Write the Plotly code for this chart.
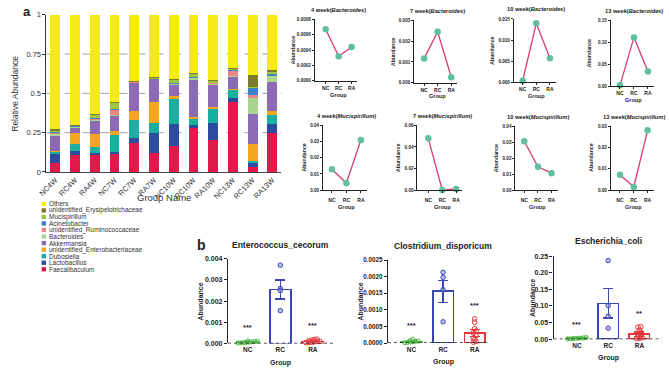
import numpy as np
import plotly.graph_objects as go

W, H = 669, 380

# ---------------- Panel a: relative abundance (stacked) ----------------
samples = ["NC4W", "RC4W", "RA4W", "NC7W", "RC7W", "RA7W",
           "NC10W", "RC10W", "RA10W", "NC13W", "RC13W", "RA13W"]
faecalibaculum      = [0.055, 0.110, 0.110, 0.120, 0.185, 0.120, 0.165, 0.280, 0.200, 0.445, 0.030, 0.250]
lactobacillus       = [0.060, 0.025, 0.010, 0.005, 0.030, 0.125, 0.140, 0.020, 0.110, 0.025, 0.030, 0.055]
dubosiella          = [0.015, 0.040, 0.040, 0.110, 0.115, 0.065, 0.165, 0.040, 0.095, 0.055, 0.010, 0.060]
enterobacteriaceae  = [0.005, 0.075, 0.080, 0.025, 0.055, 0.135, 0.010, 0.010, 0.008, 0.002, 0.108, 0.020]
akkermansia         = [0.100, 0.035, 0.090, 0.100, 0.185, 0.150, 0.075, 0.240, 0.145, 0.080, 0.190, 0.185]
bacteroides_a       = [0.010, 0.005, 0.005, 0.005, 0.003, 0.002, 0.008, 0.012, 0.008, 0.003, 0.110, 0.045]
ruminococcaceae     = [0.010, 0.003, 0.005, 0.035, 0.002, 0.001, 0.002, 0.002, 0.003, 0.040, 0.012, 0.003]
acinetobacter       = [0.003, 0.002, 0.002, 0.003, 0.002, 0.001, 0.002, 0.001, 0.002, 0.001, 0.050, 0.003]
mucispirillum_a     = [0.010, 0.003, 0.025, 0.040, 0.002, 0.002, 0.025, 0.020, 0.012, 0.006, 0.003, 0.018]
erysipelotrichaceae = [0.002, 0.001, 0.003, 0.003, 0.001, 0.001, 0.002, 0.002, 0.002, 0.001, 0.075, 0.012]
others              = [0.730, 0.701, 0.630, 0.554, 0.420, 0.398, 0.406, 0.373, 0.415, 0.342, 0.382, 0.349]

genera = ["Faecalibaculum", "Lactobacillus", "Dubosiella", "unidentified_Enterobacteriaceae",
          "Akkermansia", "Bacteroides", "unidentified_Ruminococcaceae", "Acinetobacter",
          "Mucispirillum", "unidentified_Erysipelotrichaceae", "Others"]
stack_series = [faecalibaculum, lactobacillus, dubosiella, enterobacteriaceae, akkermansia,
                bacteroides_a, ruminococcaceae, acinetobacter, mucispirillum_a,
                erysipelotrichaceae, others]
genus_colors = ["#E2194B", "#2D4B9F", "#1AB0A0", "#F6A520", "#8C6BB4", "#A9D78F",
                "#EE8585", "#3B82C6", "#9CC63C", "#7C7A2C", "#F3EA16"]
rel_ticks = [0, 0.25, 0.5, 0.75, 1]
rel_ticktext = ["0", "0.25", "0.5", "0.75", "1"]

# ---------------- Small line charts ----------------
groups = ["NC", "RC", "RA"]
weeks = ["4 week", "7 week", "10 week", "13 week"]
bacteroides_line = [[0.00067, 0.00032, 0.00044],
                    [0.00116, 0.00245, 0.00027],
                    [0.00040, 0.01400, 0.00570],
                    [0.00150, 0.11100, 0.03300]]
mucispirillum_line = [[0.0129, 0.0044, 0.0310],
                      [0.0480, 0.0002, 0.0012],
                      [0.0305, 0.0146, 0.0106],
                      [0.0072, 0.0015, 0.0280]]
bact_yticks = [(0.0008, 0.0002, 4), (0.003, 0.001, 3), (0.015, 0.005, 3), (0.15, 0.05, 2)]
muci_yticks = [(0.04, 0.01, 2), (0.06, 0.02, 2), (0.04, 0.01, 2), (0.03, 0.01, 2)]

# ---------------- Panel b: bar + scatter ----------------
b_titles = ["Enterococcus_cecorum", "Clostridium_disporicum", "Escherichia_coli"]
entero_pts = [[0.00010, 0.00008, 0.00006, 0.00005, 0.00004, 0.00003, 0.00002, 0.00011, 0.00012],
              [0.00370, 0.00260, 0.00250, 0.00155],
              [0.00020, 0.00018, 0.00015, 0.00012, 0.00010, 0.00008, 0.00006, 0.00005, 0.00004, 0.00010]]
entero_mean = [0.00007, 0.00255, 0.00010]
entero_sem = [0.00001, 0.00045, 0.00002]
clos_pts = [[0.00012, 0.00008, 0.00006, 0.00005, 0.00004, 0.00003, 0.00002, 0.00001],
            [0.00213, 0.00198, 0.00161, 0.00064],
            [0.00073, 0.00063, 0.00043, 0.00036, 0.00031, 0.00022, 0.00015, 0.00010, 0.00005, 0.00003]]
clos_mean = [0.00005, 0.00156, 0.00031]
clos_sem = [0.00001, 0.00033, 0.00010]
ecoli_pts = [[0.005, 0.004, 0.003, 0.003, 0.002, 0.002, 0.001, 0.001],
             [0.237, 0.101, 0.069, 0.033],
             [0.037, 0.036, 0.027, 0.020, 0.015, 0.010, 0.008, 0.005, 0.003, 0.002]]
ecoli_mean = [0.003, 0.108, 0.0147]
ecoli_sem = [0.0005, 0.044, 0.0069]
b_sig = [["***", "", "***"], ["***", "", "***"], ["***", "", "**"]]
b_yticks = [(0.004, 0.001, 3), (0.0025, 0.0005, 4), (0.25, 0.05, 2)]

# ---------------- styling / layout helpers ----------------
FONT = "Liberation Sans, Arial, sans-serif"
LINE_COL = "#D93A74"
MK_COL = "#5FBF9F"
GROUP_COLS = ["#4DB546", "#3A47B0", "#E5383E"]


def fx(x):
    return x / W


def fy(y):
    return 1 - y / H


annotations = []
shapes = []


def ann(text, x, y, size, color="#222", xref="paper", yref="paper", xanchor="center",
        yanchor="middle", angle=0):
    annotations.append(dict(text=text, x=x, y=y, xref=xref, yref=yref, xanchor=xanchor,
                            yanchor=yanchor, textangle=angle, showarrow=False,
                            font=dict(size=size, color=color)))


fig = go.Figure()
layout = dict(width=W, height=H, margin=dict(l=0, r=0, t=0, b=0),
              paper_bgcolor="white", plot_bgcolor="white", barmode="stack",
              showlegend=False, font=dict(family=FONT, color="#222"))

# ---- panel a
xs = list(range(len(samples)))
for g, col, vals in zip(genera, genus_colors, stack_series):
    fig.add_trace(go.Bar(x=xs, y=vals, name=g, width=0.5,
                         marker=dict(color=col, line=dict(width=0)),
                         xaxis="x", yaxis="y", hoverinfo="skip"))
layout["xaxis"] = dict(domain=[fx(38), fx(276)], range=[-0.45, 11.45], tickvals=xs,
                       ticktext=samples, tickangle=-45, tickfont=dict(size=7.5, color="#333"),
                       showline=True, linecolor="#444", linewidth=1, ticks="",
                       showgrid=False, zeroline=False, anchor="y")
layout["yaxis"] = dict(domain=[fy(172), fy(11)], range=[0, 1], tickvals=rel_ticks,
                       ticktext=rel_ticktext, ticks="outside", ticklen=3, tickcolor="#333",
                       tickfont=dict(size=7.5, color="#333"), showline=True, linecolor="#333",
                       linewidth=1, showgrid=False, zeroline=False, anchor="x")
for v in rel_ticks[1:-1]:
    shapes.append(dict(type="line", xref="x domain", yref="y", x0=0, x1=1, y0=v, y1=v,
                       line=dict(color="#8a8a8a", width=0.8, dash="dash"), layer="below"))
ann("Group Name", fx(157), fy(198), 9.5, color="#333")
ann("Relative Abundance", fx(6.5), fy(91.5), 8.5, color="#333", angle=-90)
ann("<b>a</b>", fx(18), fy(8), 13)
ann("<b>b</b>", fx(195.5), fy(247), 14)

# legend (top entry = last stacked series)
for i, (g, col) in enumerate(zip(genera[::-1], genus_colors[::-1])):
    yc = 204.7 + i * 6.7
    shapes.append(dict(type="rect", xref="paper", yref="paper", x0=fx(33), x1=fx(37.5),
                       y0=fy(yc + 2.2), y1=fy(yc - 2.2), fillcolor=col, line=dict(width=0)))
    ann(g, fx(39), fy(yc), 6.5, color="#333", xanchor="left")

# ---- small line charts
small_specs = [  # (axis x px, NC px, RA px, top px, bottom px)
    (310.0, 321.0, 347.3, 15.7, 78.7),
    (410.7, 420.7, 448.3, 16.7, 80.7),
    (511.7, 520.7, 548.3, 15.3, 80.3),
    (610.0, 619.3, 647.7, 16.7, 84.0),
    (318.3, 327.3, 356.7, 124.3, 190.7),
    (414.0, 425.0, 453.3, 124.3, 190.7),
    (513.3, 522.3, 550.0, 125.0, 190.7),
    (610.0, 619.3, 647.3, 125.0, 190.7),
]
small_data = bacteroides_line + mucispirillum_line
small_ticks = bact_yticks + muci_yticks
small_titles = [f"{w}(<i>Bacteroides</i>)" for w in weeks] + \
               [f"{w}(<i>Mucispirillum</i>)" for w in weeks]
for k in range(8):
    n = k + 2
    ax0, ncx, rax, top, bot = small_specs[k]
    sp = (rax - ncx) / 2
    left = -(ncx - ax0) / sp
    right = 2.45
    x1 = ax0 + (right - left) * sp
    ymax, step, dec = small_ticks[k]
    tv = list(np.round(np.arange(0, ymax + step / 2, step), 6))
    tt = [f"{v:.{dec}f}" for v in tv]
    fig.add_trace(go.Scatter(x=[0, 1, 2], y=small_data[k], mode="lines+markers",
                             line=dict(color=LINE_COL, width=1.3),
                             marker=dict(color=MK_COL, size=6.5),
                             cliponaxis=False, xaxis=f"x{n}", yaxis=f"y{n}", hoverinfo="skip"))
    bottom_row = k >= 4
    layout[f"xaxis{n}"] = dict(domain=[fx(ax0), fx(x1)], range=[left, right], tickvals=[0, 1, 2],
                               ticktext=groups, ticks="outside", ticklen=2, tickwidth=0.8,
                               tickcolor="#222", showline=True, linecolor="#222", linewidth=1,
                               tickfont=dict(size=5, weight="bold", color="#222"),
                               ticklabelstandoff=3 if bottom_row else 0,
                               showgrid=False, zeroline=False, anchor=f"y{n}")
    layout[f"yaxis{n}"] = dict(domain=[fy(bot), fy(top)], range=[0, ymax], tickvals=tv,
                               ticktext=tt, ticks="outside", ticklen=2, tickwidth=0.8,
                               tickcolor="#222", showline=True, linecolor="#222", linewidth=1,
                               tickfont=dict(size=4.6, weight="bold", color="#222"),
                               showgrid=False, zeroline=False, anchor=f"x{n}")
    rcx = ncx + sp
    title_y = top - 10 if not bottom_row else top - 9.5
    ann(f"<b>{small_titles[k]}</b>", fx(rcx), fy(title_y), 5.7)
    ann("<b>Group</b>", fx(rcx), fy(bot + (17.6 if bottom_row else 14)), 5.5)
    ann("<b>Abundance</b>", fx(ax0 - (19.5 if bottom_row else 22)), fy((top + bot) / 2), 5.2,
        angle=-90)


# ---- panel b
def swarm(vals, yrange, step=0.085, binh=0.03):
    vals = np.asarray(vals, dtype=float)
    out = np.zeros(len(vals))
    bins = {}
    for i in np.argsort(vals):
        bins.setdefault(int(vals[i] / (binh * yrange)), []).append(i)
    for idxs in bins.values():
        m = len(idxs)
        offs = (np.arange(m) - (m - 1) / 2) * step
        for i, o in zip(idxs, offs):
            out[i] = o
    return out


b_specs = [  # (axis x px, NC px, RA px, right range, top px, bottom px, tick font, ytitle offset)
    (222.0, 242.0, 308.0, 2.64, 261.0, 347.7, 7.0, 28.0),
    (384.0, 408.0, 472.0, 2.42, 262.3, 347.3, 6.3, 27.3),
    (552.0, 575.7, 639.0, 2.72, 258.3, 343.3, 7.0, 21.5),
]
b_pts = [entero_pts, clos_pts, ecoli_pts]
b_means = [entero_mean, clos_mean, ecoli_mean]
b_sems = [entero_sem, clos_sem, ecoli_sem]
title_ys = [247.0, 248.0, 243.0]
for j in range(3):
    n = 10 + j
    ax0, ncx, rax, right, top, bot, tfs, yoff = b_specs[j]
    sp = (rax - ncx) / 2
    left = -(ncx - ax0) / sp
    x1 = ax0 + (right - left) * sp
    ymax, step, dec = b_yticks[j]
    tv = list(np.round(np.arange(0, ymax + step / 2, step), 6))
    tt = [f"{v:.{dec}f}" for v in tv]
    for gi in range(3):
        col = GROUP_COLS[gi]
        fig.add_trace(go.Bar(x=[gi], y=[b_means[j][gi]], width=0.65,
                             marker=dict(color="rgba(255,255,255,0)", line=dict(color=col, width=1.6)),
                             error_y=dict(type="data", array=[b_sems[j][gi]], color=col,
                                          thickness=1.2, width=5),
                             xaxis=f"x{n}", yaxis=f"y{n}", hoverinfo="skip"))
        pts = b_pts[j][gi]
        offs = swarm(pts, ymax)
        if gi == 1:
            mk = dict(symbol="circle", size=4.5, color="rgba(140,150,220,0.6)",
                      line=dict(color=col, width=1))
        else:
            mk = dict(symbol="circle-open", size=4.8 if gi == 2 else 4, color=col,
                      line=dict(color=col, width=1))
        fig.add_trace(go.Scatter(x=gi + offs, y=pts, mode="markers", marker=mk, cliponaxis=False,
                                 xaxis=f"x{n}", yaxis=f"y{n}", hoverinfo="skip"))
        if b_sig[j][gi]:
            ann(f"<b>{b_sig[j][gi]}</b>", gi, max(pts) + 0.08 * ymax, 7.5,
                xref=f"x{n}", yref=f"y{n}", yanchor="bottom")
    layout[f"xaxis{n}"] = dict(domain=[fx(ax0), fx(x1)], range=[left, right], tickvals=[0, 1, 2],
                               ticktext=groups, ticks="", showline=False,
                               tickfont=dict(size=6.5, weight="bold", color="#222"),
                               ticklabelstandoff=1,
                               showgrid=False, zeroline=False, anchor=f"y{n}")
    layout[f"yaxis{n}"] = dict(domain=[fy(bot), fy(top)], range=[0, ymax], tickvals=tv,
                               ticktext=tt, ticks="outside", ticklen=3, tickwidth=1,
                               tickcolor="#222", showline=True, linecolor="#222", linewidth=1.2,
                               tickfont=dict(size=tfs, weight="bold", color="#222"),
                               showgrid=False, zeroline=False, anchor=f"x{n}")
    shapes.append(dict(type="line", xref=f"x{n} domain", yref=f"y{n}", x0=0, x1=1, y0=0, y1=0,
                       line=dict(color="#222", width=1.5, dash="dot")))
    ann(f"<b>{b_titles[j]}</b>", 1, fy(title_ys[j]), 8.5, xref=f"x{n}")
    ann("<b>Group</b>", 1, fy(bot + 19.5), 7, xref=f"x{n}")
    ann("<b>Abundance</b>", fx(ax0 - yoff), fy((top + bot) / 2), 7, angle=-90)

layout["annotations"] = annotations
layout["shapes"] = shapes
fig.update_layout(**layout)
fig.write_html("out.html", config={"displayModeBar": False},
               post_script="document.body.style.margin='0';document.body.style.overflow='hidden';")
